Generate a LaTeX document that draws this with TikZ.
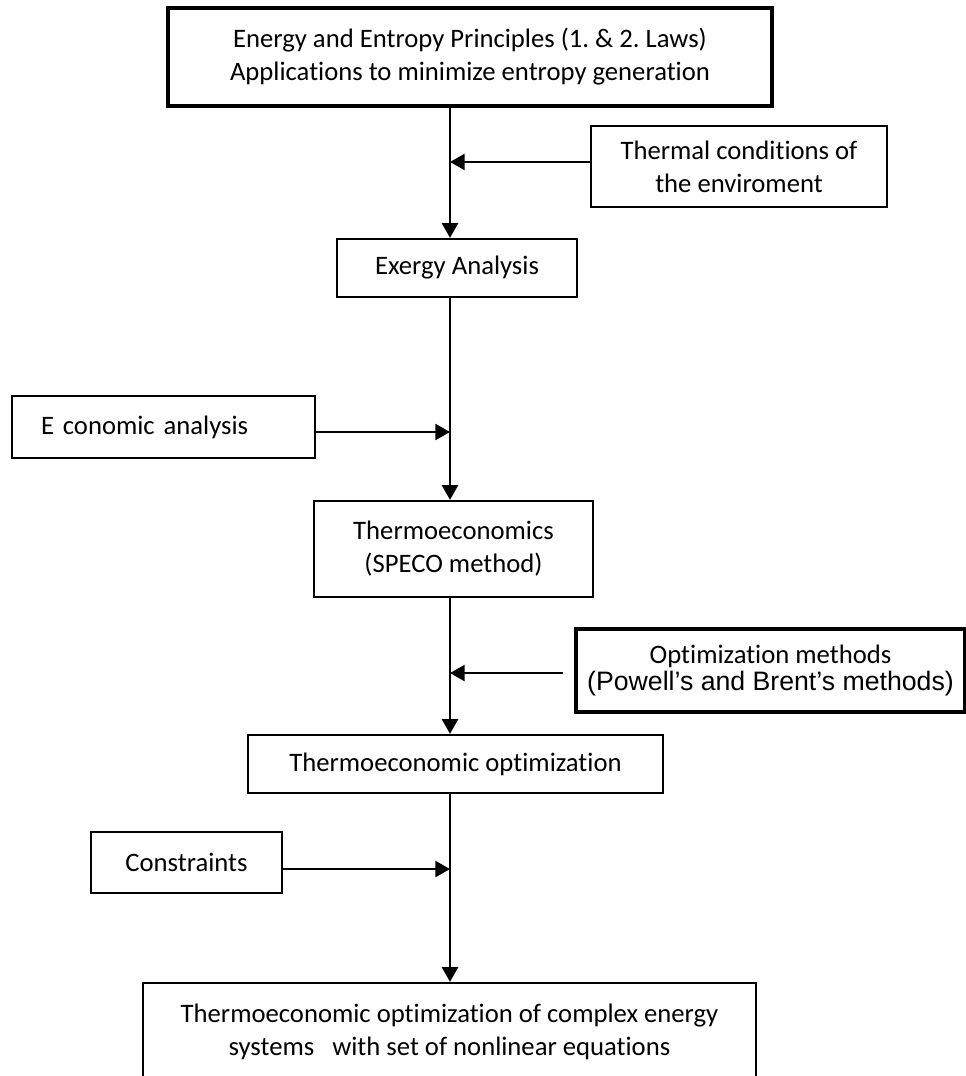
\documentclass[tikz,border=0pt]{standalone}
\usepackage{fontspec}
\setmainfont{Carlito}[Ligatures=NoCommon]
\newfontfamily\arialfont{Liberation Sans}
\usetikzlibrary{arrows.meta}
\frenchspacing

\begin{document}
\begin{tikzpicture}[
  x=0.75pt, y=-0.75pt,
  box/.style={rectangle, draw=black, line width=1.7pt, inner sep=0pt, align=center, font=\fontsize{20}{24.75}\selectfont},
  arrow/.style={-{Triangle[length=11pt, width=12pt]}, line width=1.8pt}
]
\useasboundingbox (0,0) rectangle (966,1076);
\coordinate (spine) at (450,0);

% Main chain
\node[box, line width=2.3pt, minimum width=453pt, minimum height=73.5pt] (energy) at (470,57) {Energy and Entropy Principles (1. \& 2. Laws)\\Applications to minimize entropy generation};
\node[box, minimum width=180pt, minimum height=43.5pt] (exergy) at (457,268) {Exergy Analysis};
\node[box, minimum width=209.25pt, minimum height=72pt] (thermo) at (453.5,549) {Thermoeconomics\\(SPECO method)};
\node[box, minimum width=311.25pt, minimum height=43.5pt] (topt) at (455.5,764) {Thermoeconomic optimization};
\node[box, minimum width=459.75pt, minimum height=73.5pt] (final) at (449.5,1032) {Thermoeconomic optimization of complex energy\\systems\ \ \ with set of nonlinear equations};

% Side inputs
\node[box, minimum width=222pt, minimum height=60.75pt] (thermal) at (739,166.5) {Thermal conditions of\\the enviroment};
\node[box, align=left, inner xsep=21.75pt, text width=183.75pt, minimum height=46.5pt] (econ) at (163.5,427) {E conomic analysis};
\node[box, line width=2.4pt, minimum width=291.75pt, minimum height=62.25pt] (opt) at (770.5,670.5) {Optimization methods\\[-4pt]{\arialfont (Powell’s and Brent’s methods)}};
\node[box, minimum width=143.25pt, minimum height=45.75pt] (cons) at (186.5,862.5) {Constraints};

% Arrows
\draw[arrow] (energy.south -| spine) -- (exergy.north -| spine);
\draw[arrow] ([yshift=3.4pt]thermal.west) -- ([yshift=3.4pt]thermal.west -| spine);
\draw[arrow] (exergy.south -| spine) -- (thermo.north -| spine);
\draw[arrow] ([yshift=-3.75pt]econ.east) -- ([yshift=-3.75pt]econ.east -| spine);
\draw[arrow] (thermo.south -| spine) -- (topt.north -| spine);
\draw[arrow] ([xshift=-8.25pt, yshift=-1.9pt]opt.west) -- ([yshift=-1.9pt]opt.west -| spine);
\draw[arrow] (topt.south -| spine) -- (final.north -| spine);
\draw[arrow] ([yshift=-4.9pt]cons.east) -- ([yshift=-4.9pt]cons.east -| spine);

\end{tikzpicture}
\end{document}
